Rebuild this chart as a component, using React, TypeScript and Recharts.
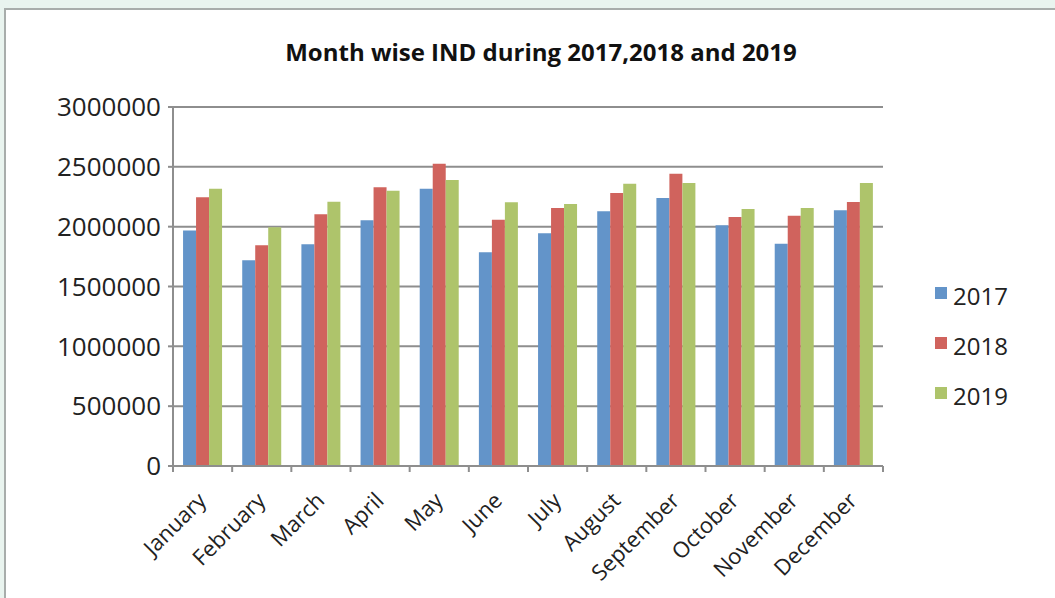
import { BarChart, Bar, XAxis, YAxis, CartesianGrid } from "recharts";

const months = [
  "January", "February", "March", "April", "May", "June",
  "July", "August", "September", "October", "November", "December",
];
const ind2017 = [1969000, 1719000, 1853000, 2053000, 2317000, 1786000, 1945000, 2128000, 2240000, 2011000, 1858000, 2137000];
const ind2018 = [2245000, 1844000, 2103000, 2329000, 2526000, 2058000, 2156000, 2281000, 2443000, 2081000, 2092000, 2206000];
const ind2019 = [2317000, 1995000, 2209000, 2301000, 2390000, 2204000, 2189000, 2359000, 2365000, 2148000, 2156000, 2365000];
const yTicks = [0, 500000, 1000000, 1500000, 2000000, 2500000, 3000000];

const series = [
  { key: "y2017", name: "2017", color: "#6394C9" },
  { key: "y2018", name: "2018", color: "#D0635D" },
  { key: "y2019", name: "2019", color: "#AEC46B" },
];

const data = months.map((m, i) => ({
  month: m,
  y2017: ind2017[i],
  y2018: ind2018[i],
  y2019: ind2019[i],
}));

const W = 1055;
const H = 598;
const margin = { top: 107, right: 172, bottom: 22, left: 63 };
const yAxisWidth = 110;
const bandWidth = (W - margin.left - yAxisWidth - margin.right) / months.length;
const gridColor = "#8E8E8E";
const font = "'Open Sans', sans-serif";

const MonthTick = (props: any) => {
  const { x, y, payload, index } = props;
  const left = x - bandWidth / 2;
  return (
    <g>
      <line x1={left} y1={y} x2={left} y2={y + 6} stroke={gridColor} strokeWidth={2} />
      {index === months.length - 1 && (
        <line x1={x + bandWidth / 2} y1={y} x2={x + bandWidth / 2} y2={y + 6} stroke={gridColor} strokeWidth={2} />
      )}
      <text
        x={x + 5}
        y={y + 36}
        transform={`rotate(-45 ${x + 5} ${y + 36})`}
        textAnchor="end"
        fill="#222"
        fontSize={22}
        fontFamily={font}
      >
        {payload.value}
      </text>
    </g>
  );
};

export default function App() {
  return (
    <div style={{ position: "absolute", left: 0, top: 0, width: W, height: H, background: "#E9F4EF", overflow: "hidden" }}>
      <div
        style={{
          position: "absolute",
          left: 4,
          top: 8,
          width: 1070,
          height: 620,
          background: "#fff",
          border: "2px solid #A8ADAB",
          boxSizing: "border-box",
        }}
      />
      <div
        style={{
          position: "absolute",
          left: 0,
          top: 35,
          width: 1082,
          textAlign: "center",
          fontFamily: font,
          fontWeight: 700,
          fontSize: 24,
          color: "#111",
        }}
      >
        Month wise IND during 2017,2018 and 2019
      </div>
      <div style={{ position: "absolute", left: 0, top: 0 }}>
        <BarChart width={W} height={H} data={data} margin={margin} barCategoryGap="17%" barGap={0}>
          <CartesianGrid vertical={false} stroke={gridColor} strokeWidth={2} />
          <XAxis
            dataKey="month"
            axisLine={{ stroke: gridColor, strokeWidth: 2 }}
            tickLine={false}
            tickSize={0}
            tickMargin={0}
            interval={0}
            height={110}
            tick={<MonthTick />}
          />
          <YAxis
            width={yAxisWidth}
            domain={[0, 3000000]}
            ticks={yTicks}
            interval={0}
            axisLine={{ stroke: gridColor, strokeWidth: 2 }}
            tickLine={{ stroke: gridColor, strokeWidth: 2 }}
            tickSize={5}
            tickMargin={7}
            tick={{ fill: "#222", fontSize: 26, fontFamily: font }}
          />
          {series.map((s) => (
            <Bar key={s.key} dataKey={s.key} name={s.name} fill={s.color} isAnimationActive={false} />
          ))}
        </BarChart>
      </div>
      <div style={{ position: "absolute", left: 935, top: 270, fontFamily: font }}>
        {series.map((s) => (
          <div key={s.key} style={{ display: "flex", alignItems: "center", height: 50 }}>
            <span style={{ width: 12, height: 12, background: s.color, marginRight: 6, marginTop: -4 }} />
            <span style={{ fontSize: 24, color: "#222" }}>{s.name}</span>
          </div>
        ))}
      </div>
    </div>
  );
}
